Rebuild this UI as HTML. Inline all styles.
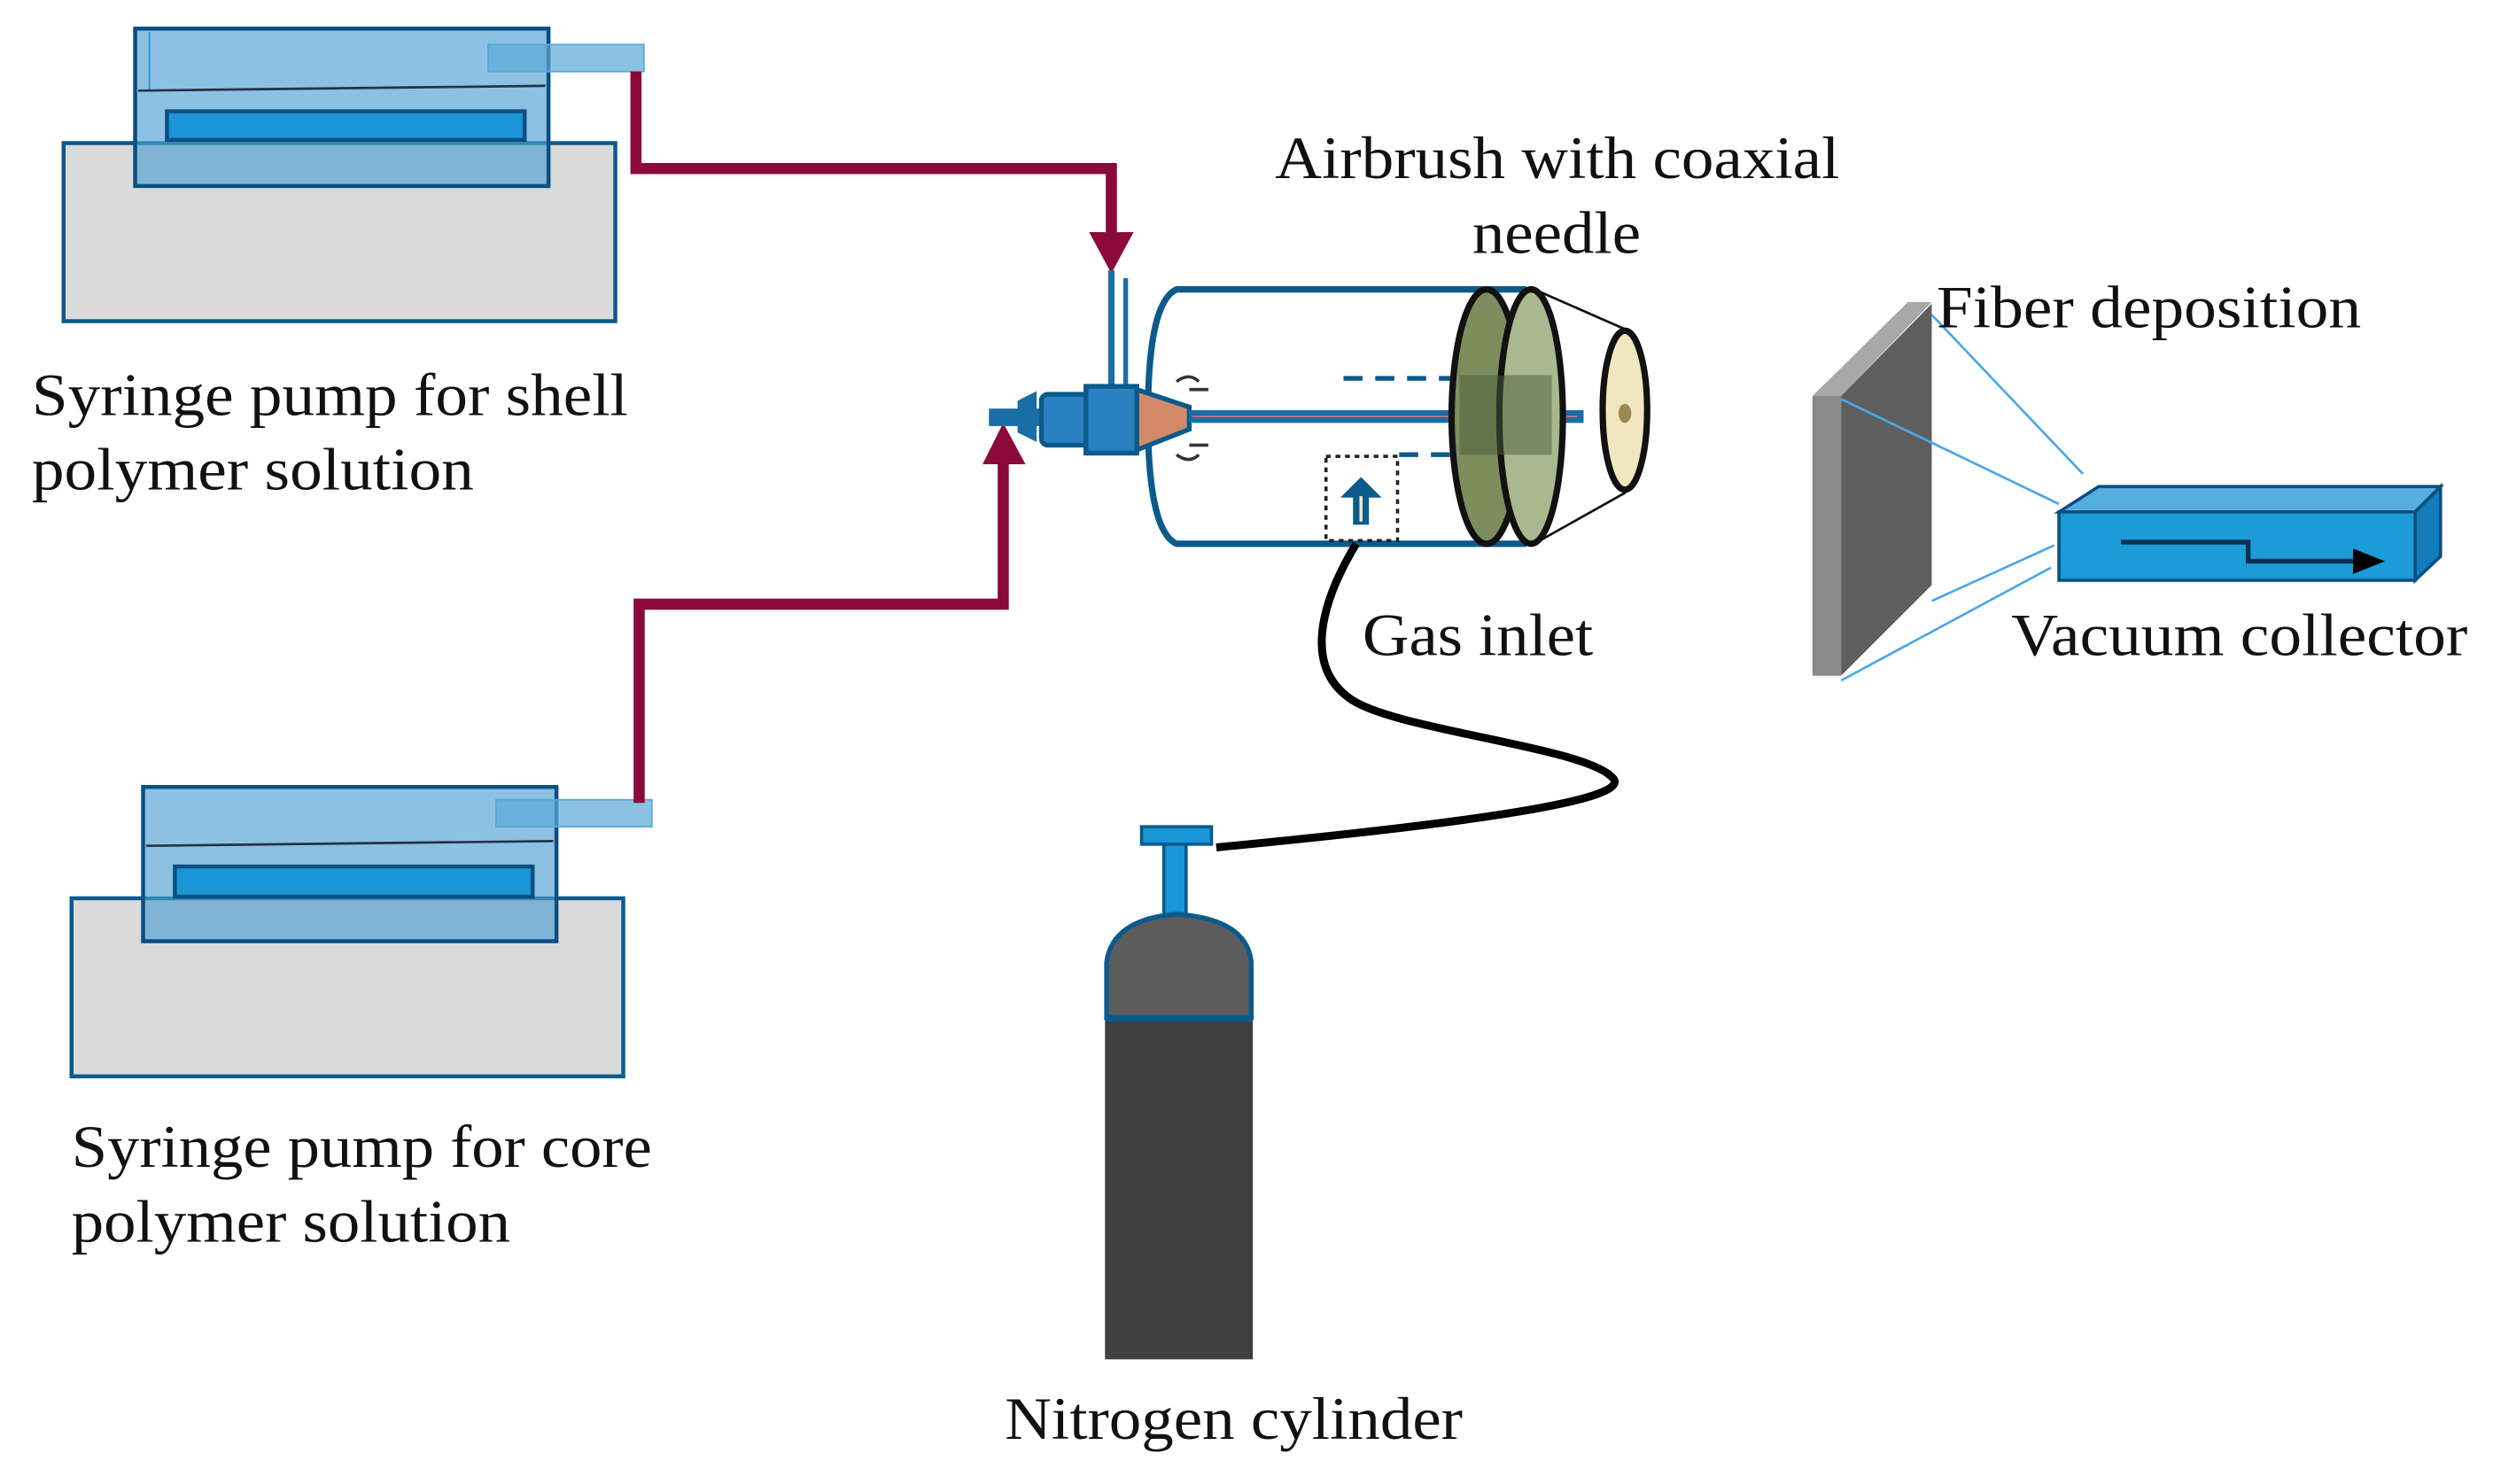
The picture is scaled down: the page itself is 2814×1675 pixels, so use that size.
<!DOCTYPE html>
<html><head><meta charset="utf-8"><style>html,body{margin:0;padding:0;background:#fff}svg{display:block}</style></head>
<body>
<svg width="2814" height="1675" viewBox="0 0 1568 933.4" preserveAspectRatio="none" xmlns="http://www.w3.org/2000/svg" font-family="Liberation Serif, serif" fill="#111">
<rect width="1568" height="934" fill="#fff"/>
<!-- shell pump -->
<rect x="40" y="90" width="347" height="112" fill="#dadada" stroke="#0b5a8c" stroke-width="2.5"/>
<rect x="85" y="18" width="260" height="99" fill="#4f9fd4" fill-opacity="0.65" stroke="#0b4f80" stroke-width="2.5"/>
<line x1="87" y1="57" x2="343" y2="54" stroke="#234" stroke-width="1.5"/>
<line x1="94" y1="20" x2="94" y2="56" stroke="#2b8fd0" stroke-width="1"/>
<rect x="105" y="70" width="225" height="18" fill="#1b95d6" stroke="#0b4f80" stroke-width="2.5"/>
<rect x="307" y="28" width="98" height="17" fill="#5aa8d8" fill-opacity="0.7" stroke="#5aa8d8" stroke-width="1"/>
<!-- core pump -->
<rect x="45" y="565" width="347" height="112" fill="#dadada" stroke="#0b5a8c" stroke-width="2.5"/>
<rect x="90" y="495" width="260" height="97" fill="#4f9fd4" fill-opacity="0.65" stroke="#0b4f80" stroke-width="2.5"/>
<line x1="92" y1="532" x2="348" y2="529" stroke="#234" stroke-width="1.5"/>
<rect x="110" y="545" width="225" height="19" fill="#1b95d6" stroke="#0b4f80" stroke-width="2.5"/>
<rect x="312" y="503" width="98" height="17" fill="#5aa8d8" fill-opacity="0.7" stroke="#5aa8d8" stroke-width="1"/>
<!-- red lines -->
<polyline points="400,45 400,106 699,106 699,150" fill="none" stroke="#8b0a3a" stroke-width="7"/>
<polygon points="685,146 713,146 699,172" fill="#8b0a3a"/>
<polyline points="402,505 402,380 631,380 631,288" fill="none" stroke="#8b0a3a" stroke-width="7"/>
<polygon points="618,292 645,292 631,266" fill="#8b0a3a"/>
<!-- airbrush body -->
<path d="M960,182 L740,182 Q722,190 722,262 Q722,334 740,342 L960,342" fill="none" stroke="#0b5a8c" stroke-width="4"/>
<line x1="699" y1="170" x2="699" y2="250" stroke="#1a6ea8" stroke-width="4"/>
<line x1="708" y1="175" x2="708" y2="250" stroke="#1a6ea8" stroke-width="3"/>
<rect x="622" y="257" width="40" height="11" fill="#1a6ea8"/>
<polygon points="640,252 652,246 652,278 640,272" fill="#1a6ea8"/>
<rect x="655" y="248" width="30" height="32" rx="4" fill="#2a80c0" stroke="#0b5a8c" stroke-width="3"/>
<rect x="683" y="243" width="32" height="42" fill="#2a80c0" stroke="#0b5a8c" stroke-width="3"/>
<polygon points="715,245 748,256 748,270 715,283" fill="#d48a68" stroke="#0b5a8c" stroke-width="3"/>
<path d="M740,240 q8,-6 14,0 M740,286 q8,6 14,0 M748,245 l12,0 M748,280 l12,0" stroke="#333" stroke-width="2" fill="none"/>
<rect x="748" y="258" width="248" height="8" fill="#1a6ea8"/>
<line x1="750" y1="262" x2="992" y2="262" stroke="#c8707a" stroke-width="1"/>
<line x1="845" y1="238" x2="920" y2="238" stroke="#0b5a8c" stroke-width="3" stroke-dasharray="12,8"/>
<line x1="880" y1="286" x2="920" y2="286" stroke="#0b5a8c" stroke-width="3" stroke-dasharray="12,8"/>
<!-- discs -->
<polygon points="965,182 1022,207 1022,310 965,342" fill="none" stroke="#111" stroke-width="1.5"/>
<ellipse cx="1022" cy="258" rx="14" ry="50" fill="#f0e6c0" stroke="#111" stroke-width="4"/>
<ellipse cx="1022" cy="260" rx="4" ry="6" fill="#9a8a50"/>
<ellipse cx="935" cy="262" rx="22" ry="80" fill="#7d8e5c" stroke="#111" stroke-width="4"/>
<ellipse cx="963" cy="262" rx="20" ry="80" fill="#a9b88e" stroke="#111" stroke-width="4"/>
<rect x="918" y="236" width="58" height="50" fill="#4a5a3a" fill-opacity="0.5"/>
<!-- gas inlet box -->
<rect x="834" y="287" width="45" height="53" fill="none" stroke="#222" stroke-width="2" stroke-dasharray="3,3"/>
<polygon points="856,300 843,313 851,313 851,330 861,330 861,313 869,313" fill="#0b5a8c"/>
<line x1="856" y1="312" x2="856" y2="328" stroke="#f0e6c0" stroke-width="2"/>
<!-- hose -->
<path d="M853,342 C830,380 820,420 850,440 C880,460 1000,470 1015,490 C1025,505 900,520 765,533" fill="none" stroke="#000" stroke-width="5"/>
<!-- cylinder -->
<rect x="718" y="520" width="44" height="11" fill="#1b95d6" stroke="#0b5a8c" stroke-width="2"/>
<rect x="732" y="531" width="14" height="46" fill="#1b95d6" stroke="#0b5a8c" stroke-width="2"/>
<path d="M696,640 L696,605 Q700,578 740,575 Q784,578 787,605 L787,640 Z" fill="#5c5c5c" stroke="#0b5a8c" stroke-width="3"/>
<rect x="695" y="641" width="93" height="214" fill="#404040"/>
<line x1="695" y1="641" x2="788" y2="641" stroke="#0b5a8c" stroke-width="3"/>
<!-- plate -->
<polygon points="1140,249 1200,190 1215,190 1158,249" fill="#a8a8a8"/>
<rect x="1140" y="249" width="18" height="176" fill="#8a8a8a"/>
<polygon points="1158,249 1215,191 1215,368 1158,425" fill="#5e5e5e"/>
<g stroke="#4aa8e8" stroke-width="1.5">
<line x1="1215" y1="198" x2="1310" y2="298"/>
<line x1="1158" y1="251" x2="1295" y2="317"/>
<line x1="1215" y1="378" x2="1292" y2="343"/>
<line x1="1158" y1="428" x2="1290" y2="357"/>
</g>
<!-- collector -->
<polygon points="1295,322 1320,306 1535,306 1519,322" fill="#56ade0" stroke="#0b4f80" stroke-width="2"/>
<polygon points="1519,322 1535,306 1535,350 1519,365" fill="#137dbc" stroke="#0b4f80" stroke-width="2"/>
<rect x="1295" y="322" width="224" height="43" fill="#1b9bd8" stroke="#0b4f80" stroke-width="2"/>
<polyline points="1334,341 1414,341 1414,353 1482,353" fill="none" stroke="#0b3050" stroke-width="3"/>
<polygon points="1480,345 1500,353 1480,361" fill="#000"/>
<!-- labels -->
<g font-size="38">
<text x="20" y="261" textLength="375" lengthAdjust="spacingAndGlyphs">Syringe pump for shell</text>
<text x="20" y="308" textLength="278" lengthAdjust="spacingAndGlyphs">polymer solution</text>
<text x="45" y="734" textLength="365" lengthAdjust="spacingAndGlyphs">Syringe pump for core</text>
<text x="45" y="781" textLength="276" lengthAdjust="spacingAndGlyphs">polymer solution</text>
<text x="802" y="112" textLength="355" lengthAdjust="spacingAndGlyphs">Airbrush with coaxial</text>
<text x="926" y="159" textLength="106" lengthAdjust="spacingAndGlyphs">needle</text>
<text x="857" y="412" textLength="145" lengthAdjust="spacingAndGlyphs">Gas inlet</text>
<text x="632" y="905" textLength="288" lengthAdjust="spacingAndGlyphs">Nitrogen cylinder</text>
<text x="1218" y="206" textLength="267" lengthAdjust="spacingAndGlyphs">Fiber deposition</text>
<text x="1265" y="412" textLength="287" lengthAdjust="spacingAndGlyphs">Vacuum collector</text>
</g>
</svg>
</body></html>
